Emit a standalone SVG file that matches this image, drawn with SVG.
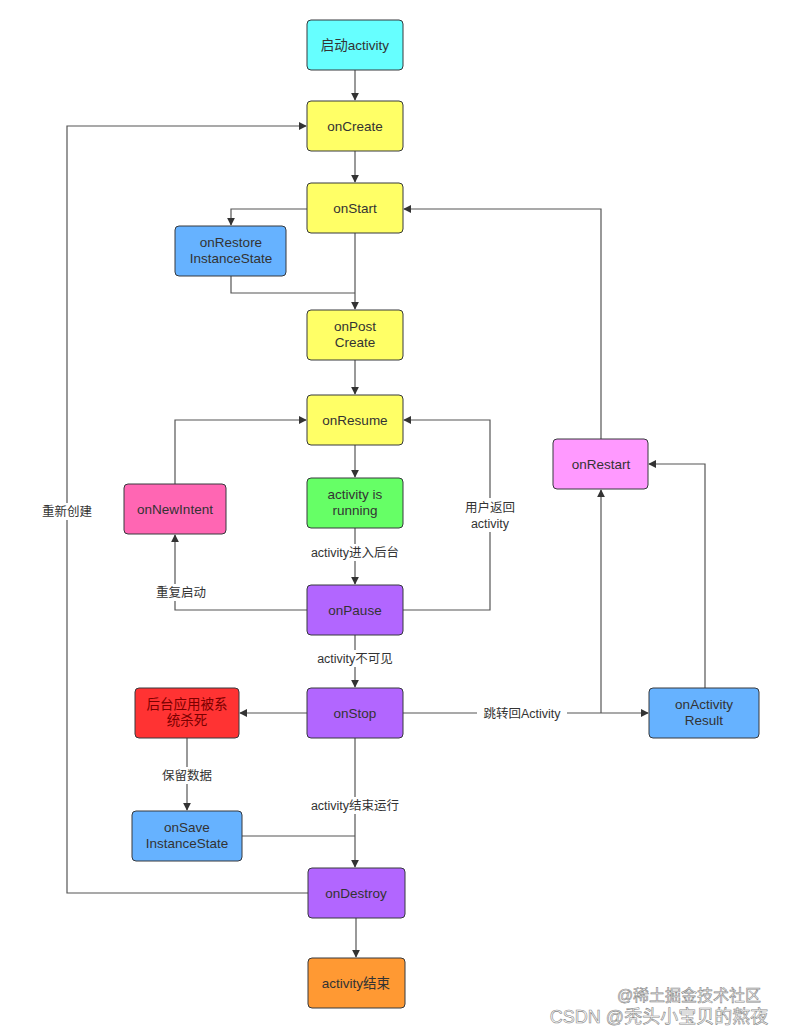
<svg xmlns="http://www.w3.org/2000/svg" width="789" height="1032" viewBox="0 0 789 1032">
<style>
.n rect{stroke:#36393d;stroke-width:1;rx:4;ry:4}
.n text,.lbl{font-family:"Liberation Sans","Noto Sans CJK SC",sans-serif;font-size:13.5px;fill:#333;text-anchor:middle}
.c path{fill:none;stroke:#555;stroke-width:1.2}
.lbl{font-size:12.5px}
.bg{fill:#fff;stroke:none}
.wm{font-family:"Liberation Sans","Noto Sans CJK SC",sans-serif;fill:#fff;stroke:#888;stroke-width:0.6;text-anchor:middle}
</style>
<defs>
<marker id="a" viewBox="0 0 10 10" refX="9" refY="5" markerWidth="8" markerHeight="8" orient="auto" markerUnits="userSpaceOnUse">
<path d="M0,0 L10,5 L0,10 z" fill="#333"/>
</marker>
</defs>
<rect width="789" height="1032" fill="#fff"/>
<g class="c">
<path d="M355,70 V100" marker-end="url(#a)"/>
<path d="M355,151 V182" marker-end="url(#a)"/>
<path d="M307,209 H231 V225" marker-end="url(#a)"/>
<path d="M355,233 V309" marker-end="url(#a)"/>
<path d="M231,276 V293 H355"/>
<path d="M355,360 V394" marker-end="url(#a)"/>
<path d="M355,445 V477" marker-end="url(#a)"/>
<path d="M355,528 V584" marker-end="url(#a)"/>
<path d="M307,610 H175 V535" marker-end="url(#a)"/>
<path d="M175,484 V420 H306" marker-end="url(#a)"/>
<path d="M403,610 H490 V420 H404" marker-end="url(#a)"/>
<path d="M355,635 V687" marker-end="url(#a)"/>
<path d="M307,713 H240" marker-end="url(#a)"/>
<path d="M187,738 V810" marker-end="url(#a)"/>
<path d="M355,738 V867" marker-end="url(#a)"/>
<path d="M242,836 H355"/>
<path d="M308,893 H67 V126 H306" marker-end="url(#a)"/>
<path d="M356,918 V957" marker-end="url(#a)"/>
<path d="M403,713 H648" marker-end="url(#a)"/>
<path d="M601,713 V490" marker-end="url(#a)"/>
<path d="M705,688 V464 H649" marker-end="url(#a)"/>
<path d="M601,439 V209 H404" marker-end="url(#a)"/>
<rect class="bg" x="302" y="544" width="106" height="17"/>
<text class="lbl" x="355" y="557">activity进入后台</text>
<rect class="bg" x="153" y="584" width="56" height="17"/>
<text class="lbl" x="181" y="597">重复启动</text>
<rect class="bg" x="464" y="498" width="52" height="34"/>
<text class="lbl" x="490" y="512">用户返回</text>
<text class="lbl" x="490" y="528">activity</text>
<rect class="bg" x="308" y="650" width="94" height="17"/>
<text class="lbl" x="355" y="663">activity不可见</text>
<rect class="bg" x="160" y="767" width="56" height="17"/>
<text class="lbl" x="187" y="780">保留数据</text>
<rect class="bg" x="303" y="797" width="104" height="17"/>
<text class="lbl" x="355" y="810">activity结束运行</text>
<rect class="bg" x="477" y="705" width="90" height="17"/>
<text class="lbl" x="522" y="718">跳转回Activity</text>
<rect class="bg" x="39" y="503" width="56" height="17"/>
<text class="lbl" x="67" y="516">重新创建</text>
</g>
<g id="start" class="n"><rect x="307" y="20" width="96" height="50" fill="#66ffff"/><text x="355" y="50">启动activity</text></g>
<g id="onCreate" class="n"><rect x="307" y="101" width="96" height="50" fill="#ffff66"/><text x="355" y="131">onCreate</text></g>
<g id="onStart" class="n"><rect x="307" y="183" width="96" height="50" fill="#ffff66"/><text x="355" y="213">onStart</text></g>
<g id="onRestore" class="n"><rect x="175" y="226" width="111" height="50" fill="#66b2ff"/><text x="231" y="247">onRestore</text><text x="231" y="263">InstanceState</text></g>
<g id="onPostCreate" class="n"><rect x="307" y="310" width="96" height="50" fill="#ffff66"/><text x="355" y="331">onPost</text><text x="355" y="347">Create</text></g>
<g id="onResume" class="n"><rect x="307" y="395" width="96" height="50" fill="#ffff66"/><text x="355" y="425">onResume</text></g>
<g id="running" class="n"><rect x="307" y="478" width="96" height="50" fill="#66ff66"/><text x="355" y="499">activity is</text><text x="355" y="515">running</text></g>
<g id="onNewIntent" class="n"><rect x="124" y="484" width="102" height="50" fill="#ff66b3"/><text x="175" y="514">onNewIntent</text></g>
<g id="onPause" class="n"><rect x="307" y="585" width="96" height="50" fill="#b266ff"/><text x="355" y="615">onPause</text></g>
<g id="onStop" class="n"><rect x="307" y="688" width="96" height="50" fill="#b266ff"/><text x="355" y="718">onStop</text></g>
<g id="killed" class="n"><rect x="135" y="688" width="104" height="50" fill="#ff3333"/><text x="187" y="709" style="fill:#7a0000">后台应用被系</text><text x="187" y="725" style="fill:#7a0000">统杀死</text></g>
<g id="onSave" class="n"><rect x="132" y="811" width="110" height="50" fill="#66b2ff"/><text x="187" y="832">onSave</text><text x="187" y="848">InstanceState</text></g>
<g id="onDestroy" class="n"><rect x="308" y="868" width="97" height="50" fill="#b266ff"/><text x="356" y="898">onDestroy</text></g>
<g id="end" class="n"><rect x="308" y="958" width="97" height="50" fill="#ff9933"/><text x="356" y="988">activity结束</text></g>
<g id="onRestart" class="n"><rect x="553" y="439" width="95" height="50" fill="#ff99ff"/><text x="601" y="469">onRestart</text></g>
<g id="onActivityResult" class="n"><rect x="649" y="688" width="110" height="50" fill="#66b2ff"/><text x="704" y="709">onActivity</text><text x="704" y="725">Result</text></g>
<text class="wm" x="689" y="1001" style="font-size:16px">@稀土掘金技术社区</text>
<text class="wm" x="659" y="1023" style="font-size:18px">CSDN @秃头小宝贝的熬夜</text>
</svg>
